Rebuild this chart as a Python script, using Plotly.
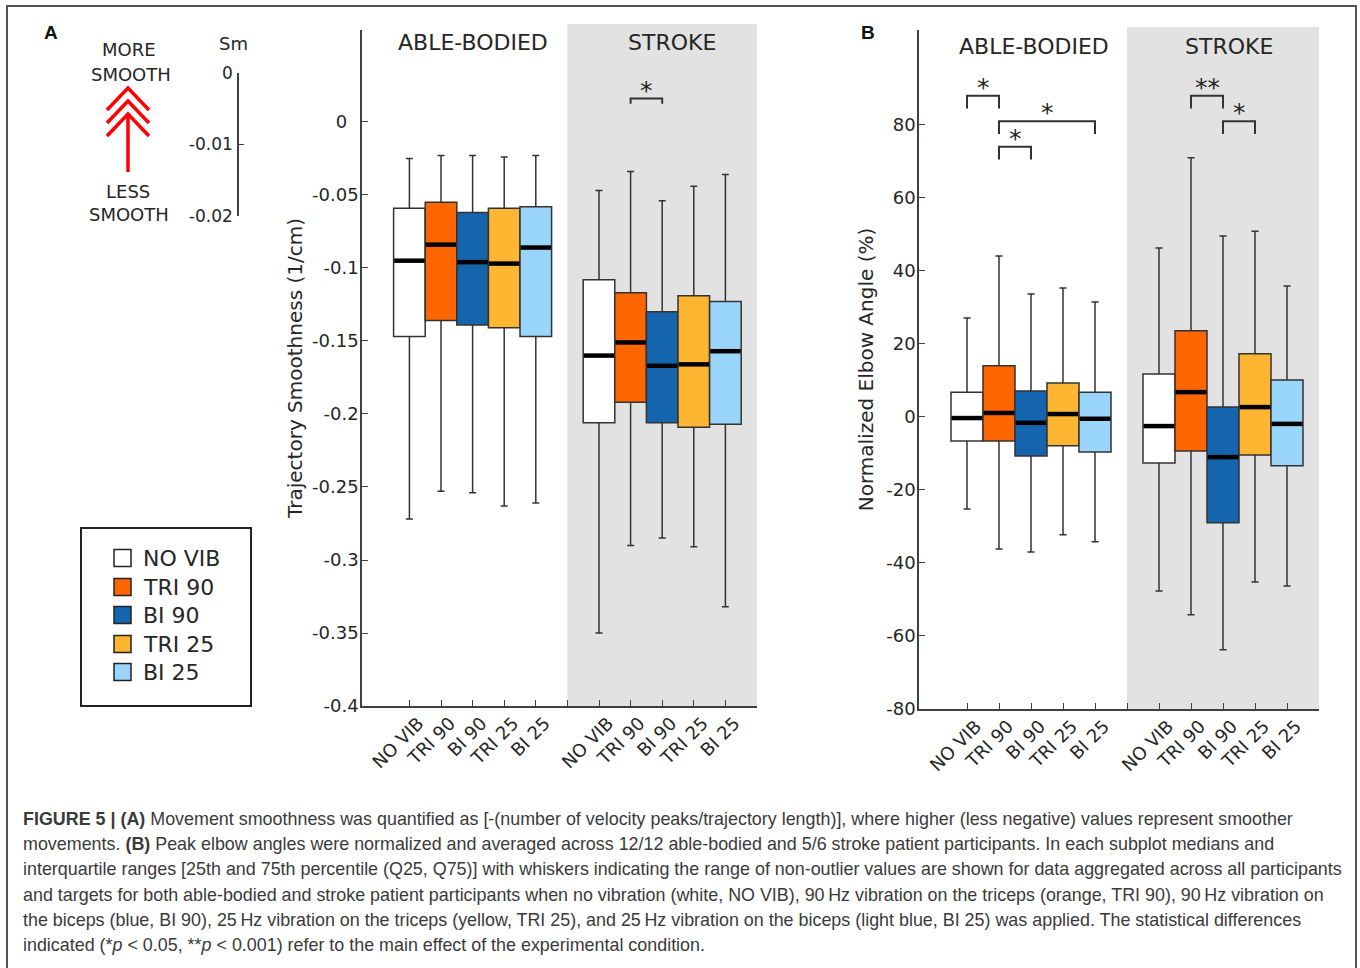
import plotly.graph_objects as go

W, H = 1360, 968
def px(x): return x / W
def py(y): return 1 - y / H

# ---------------- data ----------------
conditions = ["NO VIB", "TRI 90", "BI 90", "TRI 25", "BI 25"]
colors = ["#ffffff", "#ff6600", "#1565ae", "#fdb532", "#9ad5fb"]
pos_able = [1, 2, 3, 4, 5]
pos_stroke = [7, 8, 9, 10, 11]
groups = ["ABLE-BODIED", "STROKE"]

# Panel A: trajectory smoothness (1/cm)
smooth_able_upper = [-0.025, -0.023, -0.023, -0.024, -0.023]
smooth_able_q3 = [-0.059, -0.055, -0.062, -0.059, -0.058]
smooth_able_med = [-0.095, -0.084, -0.096, -0.097, -0.086]
smooth_able_q1 = [-0.147, -0.136, -0.139, -0.141, -0.147]
smooth_able_lower = [-0.272, -0.253, -0.254, -0.263, -0.261]
smooth_stroke_upper = [-0.047, -0.034, -0.054, -0.044, -0.036]
smooth_stroke_q3 = [-0.108, -0.117, -0.130, -0.119, -0.123]
smooth_stroke_med = [-0.160, -0.151, -0.167, -0.166, -0.157]
smooth_stroke_q1 = [-0.206, -0.192, -0.206, -0.209, -0.207]
smooth_stroke_lower = [-0.350, -0.290, -0.285, -0.291, -0.332]

# Panel B: normalized elbow angle (%)
elbow_able_upper = [27.1, 44.1, 33.7, 35.3, 31.5]
elbow_able_q3 = [6.8, 14.0, 7.1, 9.3, 6.8]
elbow_able_med = [-0.3, 1.1, -1.6, 0.8, -0.5]
elbow_able_q1 = [-6.6, -6.6, -10.7, -7.9, -9.6]
elbow_able_lower = [-25.2, -36.2, -37.0, -32.3, -34.2]
elbow_stroke_upper = [46.3, 71.0, 49.6, 50.9, 35.9]
elbow_stroke_q3 = [11.8, 23.6, 2.7, 17.3, 10.1]
elbow_stroke_med = [-2.5, 6.8, -11.0, 2.7, -1.9]
elbow_stroke_q1 = [-12.6, -9.3, -29.0, -10.4, -13.4]
elbow_stroke_lower = [-47.7, -54.2, -63.8, -45.2, -46.3]

# significance brackets: (x_from, x_to, level, label)
sig_A = [(8, 9, 0.016, "*")]
sig_B = [(1, 2, 88, "*"), (2, 5, 81, "*"), (2, 3, 74, "*"), (8, 9, 88, "**"), (9, 10, 81, "*")]

tickvals_x = [1, 2, 3, 4, 5, 6, 7, 8, 9, 10, 11]
ticktext_x = conditions + [""] + conditions
ticks_A = [0, -0.05, -0.1, -0.15, -0.2, -0.25, -0.3, -0.35, -0.4]
ticklabels_A = ["0\u2007", "-0.05", "-0.1", "-0.15", "-0.2", "-0.25", "-0.3", "-0.35", "-0.4"]
ticks_B = [80, 60, 40, 20, 0, -20, -40, -60, -80]
ticklabels_B = ["80", "60", "40", "20", "0", "-20", "-40", "-60", "-80"]
ticks_Sm = [0, -0.01, -0.02]
ticklabels_Sm = ["0", "-0.01", "-0.02"]

caption_lines = [
    "<b>FIGURE 5 | (A)</b> Movement smoothness was quantified as [-(number of velocity peaks/trajectory length)], where higher (less negative) values represent smoother",
    "movements. <b>(B)</b> Peak elbow angles were normalized and averaged across 12/12 able-bodied and 5/6 stroke patient participants. In each subplot medians and",
    "interquartile ranges [25th and 75th percentile (Q25, Q75)] with whiskers indicating the range of non-outlier values are shown for data aggregated across all participants",
    "and targets for both able-bodied and stroke patient participants when no vibration (white, NO VIB), 90\u2009Hz vibration on the triceps (orange, TRI 90), 90\u2009Hz vibration on",
    "the biceps (blue, BI 90), 25\u2009Hz vibration on the triceps (yellow, TRI 25), and 25\u2009Hz vibration on the biceps (light blue, BI 25) was applied. The statistical differences",
    "indicated (*<i>p</i> &lt; 0.05, **<i>p</i> &lt; 0.001) refer to the main effect of the experimental condition.",
]

# ---------------- figure ----------------
FONT = "DejaVu Sans"
TXT = "#262626"
LINE = "#333333"
fig = go.Figure()

panels = [
    ("x", "y", (smooth_able_lower, smooth_able_q1, smooth_able_med, smooth_able_q3, smooth_able_upper),
     (smooth_stroke_lower, smooth_stroke_q1, smooth_stroke_med, smooth_stroke_q3, smooth_stroke_upper)),
    ("x2", "y2", (elbow_able_lower, elbow_able_q1, elbow_able_med, elbow_able_q3, elbow_able_upper),
     (elbow_stroke_lower, elbow_stroke_q1, elbow_stroke_med, elbow_stroke_q3, elbow_stroke_upper)),
]

for xa, ya, able, stroke in panels:
    for i, cond in enumerate(conditions):
        fig.add_trace(go.Box(
            x=[pos_able[i], pos_stroke[i]],
            lowerfence=[able[0][i], stroke[0][i]],
            q1=[able[1][i], stroke[1][i]],
            median=[able[2][i], stroke[2][i]],
            q3=[able[3][i], stroke[3][i]],
            upperfence=[able[4][i], stroke[4][i]],
            width=1, whiskerwidth=0.22, fillcolor=colors[i],
            line=dict(color=LINE, width=1.5), boxpoints=False,
            name=cond, showlegend=False, xaxis=xa, yaxis=ya, hoverinfo="skip",
        ))
    # medians as thick black bars
    mx, my = [], []
    for i in range(len(conditions)):
        for p, m in ((pos_able[i], able[2][i]), (pos_stroke[i], stroke[2][i])):
            mx += [p - 0.48, p + 0.48, None]
            my += [m, m, None]
    fig.add_trace(go.Scatter(x=mx, y=my, mode="lines", line=dict(color="black", width=4.5),
                             showlegend=False, xaxis=xa, yaxis=ya, hoverinfo="skip"))

# dummy trace so the small Sm scale axis gets drawn
fig.add_trace(go.Scatter(x=[None], y=[None], xaxis="x3", yaxis="y3", showlegend=False, hoverinfo="skip"))

# significance brackets
def add_brackets(sig, xa, ya, leg, star_shift):
    for x0, x1, lev, lab in sig:
        fig.add_trace(go.Scatter(x=[x0, x0, x1, x1], y=[lev - leg, lev, lev, lev - leg], mode="lines",
                                 line=dict(color=LINE, width=2), showlegend=False,
                                 xaxis=xa, yaxis=ya, hoverinfo="skip"))
        fig.add_annotation(x=(x0 + x1) / 2, y=lev, xref=xa, yref=ya, text=lab, showarrow=False,
                           yanchor="bottom", yshift=star_shift, font=dict(family=FONT, size=25, color=TXT))

add_brackets(sig_A, "x", "y", 0.0035, -8)
add_brackets(sig_B, "x2", "y2", 3.5, -8)

axis_common = dict(showline=True, linecolor="#404040", linewidth=1.5, ticks="inside", ticklen=6,
                   tickcolor="#404040", tickwidth=1.2, showgrid=False, zeroline=False, automargin=False,
                   tickfont=dict(family=FONT, size=18, color=TXT), fixedrange=True)

fig.update_layout(
    width=W, height=H, margin=dict(l=0, r=0, t=0, b=0, pad=0, autoexpand=False),
    paper_bgcolor="white", plot_bgcolor="rgba(0,0,0,0)", boxmode="overlay", showlegend=False,
    xaxis=dict(domain=[px(362), px(757)], range=[-0.5, 12], anchor="y",
               tickvals=tickvals_x, ticktext=ticktext_x, tickangle=-45,
               ticklabelshift=9, ticklabelstandoff=-2, **axis_common),
    yaxis=dict(domain=[py(706), py(30)], range=[-0.4, 0.063], anchor="x",
               tickvals=ticks_A, ticktext=ticklabels_A, ticklabelstandoff=-2,
               title=dict(text="Trajectory Smoothness (1/cm)", font=dict(family=FONT, size=20, color=TXT), standoff=4),
               **axis_common),
    xaxis2=dict(domain=[px(919), px(1319)], range=[-0.5, 12], anchor="y2",
                tickvals=tickvals_x, ticktext=ticktext_x, tickangle=-45,
                ticklabelshift=9, ticklabelstandoff=-2, **axis_common),
    yaxis2=dict(domain=[py(709), py(30)], range=[-80, 106], anchor="x2",
                tickvals=ticks_B, ticktext=ticklabels_B, ticklabelstandoff=-2,
                title=dict(text="Normalized Elbow Angle (%)", font=dict(family=FONT, size=20, color=TXT), standoff=7),
                **axis_common),
    xaxis3=dict(domain=[px(239), px(300)], range=[0, 1], anchor="y3", visible=False, fixedrange=True),
    yaxis3=dict(domain=[py(216), py(73)], range=[-0.02, 0], anchor="x3",
                tickvals=ticks_Sm, ticktext=ticklabels_Sm, ticklabelstandoff=1,
                **{**axis_common, "ticklen": 5, "tickfont": dict(family=FONT, size=17, color=TXT)}),
)

shapes = []
# gray stroke regions
shapes.append(dict(type="rect", xref="x", yref="paper", x0=6, x1=12, y0=py(706), y1=py(24),
                   fillcolor="#e2e2e2", line=dict(width=0), layer="below"))
shapes.append(dict(type="rect", xref="x2", yref="paper", x0=6, x1=12, y0=py(709), y1=py(27),
                   fillcolor="#e2e2e2", line=dict(width=0), layer="below"))
# outer frame
shapes.append(dict(type="path", xref="paper", yref="paper",
                   path=f"M {px(7)} {py(970)} L {px(7)} {py(6)} L {px(1356)} {py(6)} L {px(1356)} {py(970)}",
                   line=dict(color="#555555", width=2)))
# legend box
shapes.append(dict(type="rect", xref="paper", yref="paper", x0=px(81), x1=px(251), y0=py(706), y1=py(528),
                   line=dict(color="#222222", width=2), fillcolor="white"))
leg_y = [558, 587, 615, 644, 672]
for i, cond in enumerate(conditions):
    shapes.append(dict(type="rect", xref="paper", yref="paper", x0=px(114), x1=px(131),
                       y0=py(leg_y[i] + 8.5), y1=py(leg_y[i] - 8.5),
                       fillcolor=colors[i], line=dict(color="#222222", width=1.5)))
    fig.add_annotation(x=px(141), y=py(leg_y[i]), xref="paper", yref="paper", text=cond, showarrow=False,
                       xanchor="left", yanchor="middle", font=dict(family=FONT, size=22, color=TXT))

# red arrow + chevrons
red = dict(color="#ff0000", width=3.5)
shapes.append(dict(type="line", xref="paper", yref="paper", x0=px(128), x1=px(128), y0=py(172), y1=py(114),
                   line=red))
for tip in (88, 101, 114):
    shapes.append(dict(type="path", xref="paper", yref="paper",
                       path=f"M {px(107)} {py(tip + 22)} L {px(128)} {py(tip)} L {px(149)} {py(tip + 22)}",
                       line=red))
fig.update_layout(shapes=shapes)

def txt(x, y, s, size, anchor="center", bold=False, family=FONT, color=TXT):
    fig.add_annotation(x=px(x), y=py(y), xref="paper", yref="paper", text=f"<b>{s}</b>" if bold else s,
                       showarrow=False, xanchor=anchor, yanchor="middle",
                       font=dict(family=family, size=size, color=color))

txt(129, 50, "MORE", 18)
txt(131, 74, "SMOOTH", 18)
txt(128, 191, "LESS", 18)
txt(129, 214, "SMOOTH", 18)
txt(233, 44, "Sm", 18)
txt(51, 32, "A", 19, bold=True, family="Liberation Sans", color="#111111")
txt(868, 32, "B", 19, bold=True, family="Liberation Sans", color="#111111")

# group titles
for xa, ya_px, xs in (("x", 42, (3, 9.3)), ("x2", 47, (3.1, 9.2))):
    for g, xv in zip(groups, xs):
        fig.add_annotation(x=xv, y=py(ya_px), xref=xa, yref="paper", text=g, showarrow=False,
                           xanchor="center", yanchor="middle", font=dict(family=FONT, size=22, color=TXT))

# caption
cap_y = [819, 844, 869, 895, 920, 945]
for line, yv in zip(caption_lines, cap_y):
    fig.add_annotation(x=px(21), y=py(yv), xref="paper", yref="paper", text=line, showarrow=False,
                       xanchor="left", yanchor="middle",
                       font=dict(family="Liberation Sans", size=17.9, color="#3a3a3a"))

fig.write_html(
    "out.html",
    config={"displayModeBar": False},
    post_script=(
        "document.documentElement.style.margin='0';document.documentElement.style.overflow='hidden';"
        "document.body.style.margin='0';document.body.style.overflow='hidden';"
        "var gd=document.getElementsByClassName('plotly-graph-div')[0];"
        "gd.style.position='fixed';gd.style.left='0px';gd.style.top='0px';"
    ),
)
